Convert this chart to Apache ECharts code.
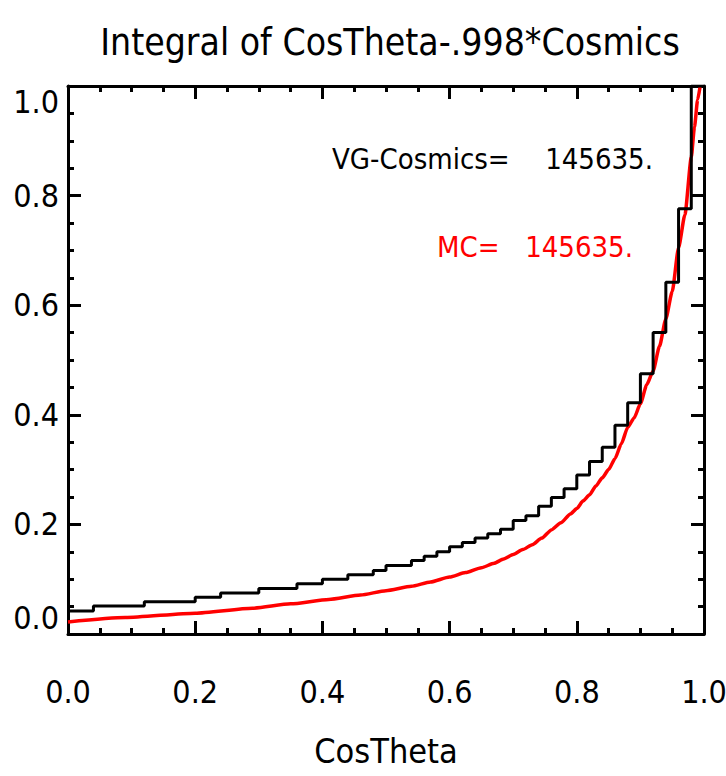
<!DOCTYPE html>
<html>
<head>
<meta charset="utf-8">
<title>Integral of CosTheta</title>
<script src="https://cdn.jsdelivr.net/npm/echarts@6/dist/echarts.min.js"></script>
<style>
  html, body { margin: 0; padding: 0; background: #fff; }
  #main { width: 726px; height: 776px; }
</style>
</head>
<body>
<div id="main"></div>
<script>
  // black histogram: 50 bins of 0.02 in CosTheta (bin left edges)
  var binStarts = [
    0.00, 0.02, 0.04, 0.06, 0.08, 0.10, 0.12, 0.14, 0.16, 0.18,
    0.20, 0.22, 0.24, 0.26, 0.28, 0.30, 0.32, 0.34, 0.36, 0.38,
    0.40, 0.42, 0.44, 0.46, 0.48, 0.50, 0.52, 0.54, 0.56, 0.58,
    0.60, 0.62, 0.64, 0.66, 0.68, 0.70, 0.72, 0.74, 0.76, 0.78,
    0.80, 0.82, 0.84, 0.86, 0.88, 0.90, 0.92, 0.94, 0.96, 0.98
  ];
  var vgValues = [
    0.042, 0.042, 0.051, 0.051, 0.051, 0.051, 0.059, 0.059, 0.059, 0.059,
    0.067, 0.067, 0.075, 0.075, 0.075, 0.083, 0.083, 0.083, 0.0915, 0.0915,
    0.100, 0.100, 0.108, 0.108, 0.116, 0.125, 0.125, 0.134, 0.142, 0.150,
    0.159, 0.167, 0.175, 0.183, 0.191, 0.207, 0.216, 0.233, 0.249, 0.265,
    0.290, 0.315, 0.341, 0.381, 0.422, 0.475, 0.550, 0.642, 0.776, 1.000
  ];
  var binEnd = 1.0;

  // red MC curve
  var mcX = [
    0, 0.09, 0.20, 0.29, 0.35, 0.41, 0.46, 0.50, 0.54, 0.57,
    0.60, 0.625, 0.65, 0.67, 0.685, 0.70, 0.715, 0.73, 0.745, 0.76,
    0.775, 0.79, 0.80, 0.81, 0.82, 0.83, 0.84, 0.85, 0.86, 0.87,
    0.88, 0.89, 0.90, 0.91, 0.92, 0.93, 0.94, 0.95, 0.96, 0.97,
    0.98, 0.985, 0.99, 0.994
  ];
  var mcY = [
    0.022, 0.030, 0.038, 0.047, 0.055, 0.063, 0.071, 0.079, 0.087, 0.095,
    0.104, 0.112, 0.121, 0.129, 0.137, 0.145, 0.154, 0.163, 0.175, 0.190,
    0.203, 0.219, 0.229, 0.243, 0.254, 0.270, 0.285, 0.300, 0.320, 0.347,
    0.377, 0.394, 0.420, 0.455, 0.480, 0.525, 0.575, 0.625, 0.705, 0.765,
    0.870, 0.925, 0.975, 1.000
  ];

  var axisMin = 0, axisMax = 1.0, axisStep = 0.2;
  var titleText = 'Integral of CosTheta-.998*Cosmics';
  var xName = 'CosTheta';
  var vgLabel = 'VG-Cosmics=', mcLabel = 'MC=', entries = '145635.';

  var font = "'Liberation Sans Narrow', 'DejaVu Sans Condensed', 'Liberation Sans', sans-serif";

  var vgData = binStarts.map(function (x, i) { return [x, vgValues[i]]; });
  vgData.push([binEnd, vgValues[vgValues.length - 1]]);
  var mcData = mcX.map(function (x, i) { return [x, mcY[i]]; });

  function axis(kind, pos, showLabel) {
    var a = {
      type: 'value',
      position: pos,
      min: axisMin,
      max: axisMax,
      interval: axisStep,
      axisLine: { show: true, onZero: false, lineStyle: { color: '#000', width: 3 } },
      axisTick: { show: true, inside: true, length: 13, lineStyle: { color: '#000', width: 3 } },
      minorTick: { show: true, splitNumber: 4, length: 6, lineStyle: { color: '#000', width: 3 } },
      splitLine: { show: false },
      axisLabel: { show: false }
    };
    if (showLabel) {
      a.axisLabel = {
        show: true,
        color: '#000',
        fontFamily: font,
        fontSize: 32,
        formatter: function (v) { return v.toFixed(1); }
      };
      if (kind === 'x') {
        a.axisLabel.margin = 42;
        a.name = xName;
        a.nameLocation = 'middle';
        a.nameGap = 100;
        a.nameTextStyle = { color: '#000', fontFamily: font, fontSize: 34 };
      } else {
        a.axisLabel.margin = 9;
        a.axisLabel.verticalAlignMinLabel = 'bottom';
        a.axisLabel.verticalAlignMaxLabel = 'top';
      }
    }
    return a;
  }

  var myChart = echarts.init(document.getElementById('main'), null, { renderer: 'svg' });
  myChart.setOption({
    backgroundColor: '#fff',
    animation: false,
    grid: { left: 68, right: 22, top: 86, bottom: 142, outerBoundsMode: 'none', containLabel: false },
    xAxis: [axis('x', 'bottom', true), axis('x', 'top', false)],
    yAxis: [axis('y', 'left', true), axis('y', 'right', false)],
    graphic: [
      { type: 'text', x: 390, y: 42,
        style: { text: titleText, fill: '#000', font: '37px ' + font, align: 'center', verticalAlign: 'middle' } },
      { type: 'text', x: 332, y: 159,
        style: { text: vgLabel, fill: '#000', font: '29px ' + font, align: 'left', verticalAlign: 'middle' } },
      { type: 'text', x: 653, y: 159,
        style: { text: entries, fill: '#000', font: '29px ' + font, align: 'right', verticalAlign: 'middle' } },
      { type: 'text', x: 437, y: 247,
        style: { text: mcLabel, fill: '#ff0000', font: '29px ' + font, align: 'left', verticalAlign: 'middle' } },
      { type: 'text', x: 633, y: 247,
        style: { text: entries, fill: '#ff0000', font: '29px ' + font, align: 'right', verticalAlign: 'middle' } }
    ],
    series: [
      {
        name: 'MC',
        type: 'line',
        data: mcData,
        showSymbol: false,
        smooth: 0.2,
        smoothMonotone: 'x',
        clip: true,
        lineStyle: { color: '#ff0000', width: 3.5 },
        z: 2
      },
      {
        name: 'VG-Cosmics',
        type: 'line',
        step: 'end',
        data: vgData,
        showSymbol: false,
        clip: true,
        lineStyle: { color: '#000', width: 3 },
        z: 3
      }
    ]
  });
</script>
</body>
</html>
